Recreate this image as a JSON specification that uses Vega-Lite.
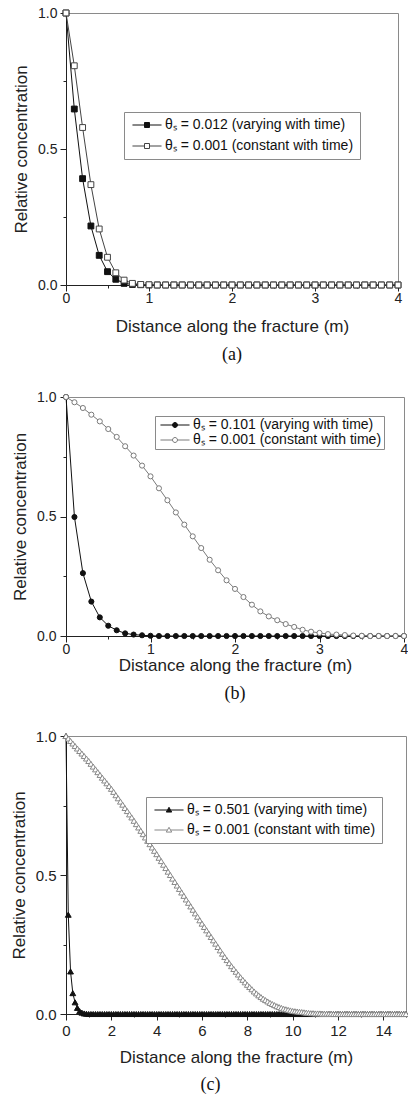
{
 "$schema": "https://vega.github.io/schema/vega-lite/v6.json",
 "background": "white",
 "padding": {"left": 9, "top": 5, "right": 0, "bottom": 0},
 "spacing": 24,
 "config": {
  "view": {"stroke": "#8a8a8a", "strokeWidth": 1},
  "axis": {"grid": false, "domainColor": "#222", "tickColor": "#222", "labelFont": "Liberation Sans", "labelFontSize": 14, "labelColor": "#222", "titleFont": "Liberation Sans", "titleFontSize": 17, "titleFontWeight": "normal", "titleColor": "#222", "labelFlush": false, "labelOverlap": false},
  "legend": {"labelFont": "Liberation Sans", "labelFontSize": 14, "labelColor": "#111", "labelLimit": 0, "strokeColor": "#8a8a8a", "fillColor": "white", "symbolStrokeWidth": 1, "symbolSize": 69},
  "title": {"font": "Liberation Serif", "fontSize": 18, "fontWeight": "normal", "color": "#111", "orient": "bottom", "anchor": "middle"}
 },
 "resolve": {"scale": {"stroke": "independent", "fill": "independent", "x": "independent", "y": "independent"}, "legend": {"stroke": "independent", "fill": "independent"}},
 "datasets": {
  "a": [
   {"s":"v","x":0,"y":1},{"s":"v","x":0.1,"y":0.647},{"s":"v","x":0.2,"y":0.391},{"s":"v","x":0.3,"y":0.217},{"s":"v","x":0.4,"y":0.109},{"s":"v","x":0.5,"y":0.049},{"s":"v","x":0.6,"y":0.021},{"s":"v","x":0.7,"y":0.006},{"s":"v","x":0.8,"y":0.002},{"s":"v","x":0.9,"y":0.001},
   {"s":"v","x":1,"y":0},{"s":"v","x":1.1,"y":0},{"s":"v","x":1.2,"y":0},{"s":"v","x":1.3,"y":0},{"s":"v","x":1.4,"y":0},{"s":"v","x":1.5,"y":0},{"s":"v","x":1.6,"y":0},{"s":"v","x":1.7,"y":0},{"s":"v","x":1.8,"y":0},{"s":"v","x":1.9,"y":0},
   {"s":"v","x":2,"y":0},{"s":"v","x":2.1,"y":0},{"s":"v","x":2.2,"y":0},{"s":"v","x":2.3,"y":0},{"s":"v","x":2.4,"y":0},{"s":"v","x":2.5,"y":0},{"s":"v","x":2.6,"y":0},{"s":"v","x":2.7,"y":0},{"s":"v","x":2.8,"y":0},{"s":"v","x":2.9,"y":0},
   {"s":"v","x":3,"y":0},{"s":"v","x":3.1,"y":0},{"s":"v","x":3.2,"y":0},{"s":"v","x":3.3,"y":0},{"s":"v","x":3.4,"y":0},{"s":"v","x":3.5,"y":0},{"s":"v","x":3.6,"y":0},{"s":"v","x":3.7,"y":0},{"s":"v","x":3.8,"y":0},{"s":"v","x":3.9,"y":0},{"s":"v","x":4,"y":0},
   {"s":"c","x":0,"y":1},{"s":"c","x":0.1,"y":0.806},{"s":"c","x":0.2,"y":0.579},{"s":"c","x":0.3,"y":0.369},{"s":"c","x":0.4,"y":0.206},{"s":"c","x":0.5,"y":0.102},{"s":"c","x":0.6,"y":0.045},{"s":"c","x":0.7,"y":0.018},{"s":"c","x":0.8,"y":0.006},{"s":"c","x":0.9,"y":0.002},
   {"s":"c","x":1,"y":0.001},{"s":"c","x":1.1,"y":0},{"s":"c","x":1.2,"y":0},{"s":"c","x":1.3,"y":0},{"s":"c","x":1.4,"y":0},{"s":"c","x":1.5,"y":0},{"s":"c","x":1.6,"y":0},{"s":"c","x":1.7,"y":0},{"s":"c","x":1.8,"y":0},{"s":"c","x":1.9,"y":0},
   {"s":"c","x":2,"y":0},{"s":"c","x":2.1,"y":0},{"s":"c","x":2.2,"y":0},{"s":"c","x":2.3,"y":0},{"s":"c","x":2.4,"y":0},{"s":"c","x":2.5,"y":0},{"s":"c","x":2.6,"y":0},{"s":"c","x":2.7,"y":0},{"s":"c","x":2.8,"y":0},{"s":"c","x":2.9,"y":0},
   {"s":"c","x":3,"y":0},{"s":"c","x":3.1,"y":0},{"s":"c","x":3.2,"y":0},{"s":"c","x":3.3,"y":0},{"s":"c","x":3.4,"y":0},{"s":"c","x":3.5,"y":0},{"s":"c","x":3.6,"y":0},{"s":"c","x":3.7,"y":0},{"s":"c","x":3.8,"y":0},{"s":"c","x":3.9,"y":0},{"s":"c","x":4,"y":0}
  ],
  "b": [
   {"s":"v","x":0,"y":1},{"s":"v","x":0.1,"y":0.498},{"s":"v","x":0.2,"y":0.263},{"s":"v","x":0.3,"y":0.144},{"s":"v","x":0.4,"y":0.078},{"s":"v","x":0.5,"y":0.043},{"s":"v","x":0.6,"y":0.024},{"s":"v","x":0.7,"y":0.011},{"s":"v","x":0.8,"y":0.006},{"s":"v","x":0.9,"y":0.003},
   {"s":"v","x":1,"y":0.001},{"s":"v","x":1.1,"y":0},{"s":"v","x":1.2,"y":0},{"s":"v","x":1.3,"y":0},{"s":"v","x":1.4,"y":0},{"s":"v","x":1.5,"y":0},{"s":"v","x":1.6,"y":0},{"s":"v","x":1.7,"y":0},{"s":"v","x":1.8,"y":0},{"s":"v","x":1.9,"y":0},
   {"s":"v","x":2,"y":0},{"s":"v","x":2.1,"y":0},{"s":"v","x":2.2,"y":0},{"s":"v","x":2.3,"y":0},{"s":"v","x":2.4,"y":0},{"s":"v","x":2.5,"y":0},{"s":"v","x":2.6,"y":0},{"s":"v","x":2.7,"y":0},{"s":"v","x":2.8,"y":0},{"s":"v","x":2.9,"y":0},
   {"s":"v","x":3,"y":0},{"s":"v","x":3.1,"y":0},{"s":"v","x":3.2,"y":0},{"s":"v","x":3.3,"y":0},{"s":"v","x":3.4,"y":0},{"s":"v","x":3.5,"y":0},{"s":"v","x":3.6,"y":0},{"s":"v","x":3.7,"y":0},{"s":"v","x":3.8,"y":0},{"s":"v","x":3.9,"y":0},{"s":"v","x":4,"y":0},
   {"s":"c","x":0,"y":1},{"s":"c","x":0.1,"y":0.978},{"s":"c","x":0.2,"y":0.954},{"s":"c","x":0.3,"y":0.926},{"s":"c","x":0.4,"y":0.898},{"s":"c","x":0.5,"y":0.866},{"s":"c","x":0.6,"y":0.833},{"s":"c","x":0.7,"y":0.794},{"s":"c","x":0.8,"y":0.755},{"s":"c","x":0.9,"y":0.713},
   {"s":"c","x":1,"y":0.668},{"s":"c","x":1.1,"y":0.618},{"s":"c","x":1.2,"y":0.568},{"s":"c","x":1.3,"y":0.517},{"s":"c","x":1.4,"y":0.466},{"s":"c","x":1.5,"y":0.417},{"s":"c","x":1.6,"y":0.368},{"s":"c","x":1.7,"y":0.319},{"s":"c","x":1.8,"y":0.275},{"s":"c","x":1.9,"y":0.233},
   {"s":"c","x":2,"y":0.197},{"s":"c","x":2.1,"y":0.163},{"s":"c","x":2.2,"y":0.131},{"s":"c","x":2.3,"y":0.103},{"s":"c","x":2.4,"y":0.082},{"s":"c","x":2.5,"y":0.066},{"s":"c","x":2.6,"y":0.05},{"s":"c","x":2.7,"y":0.038},{"s":"c","x":2.8,"y":0.026},{"s":"c","x":2.9,"y":0.018},
   {"s":"c","x":3,"y":0.013},{"s":"c","x":3.1,"y":0.008},{"s":"c","x":3.2,"y":0.006},{"s":"c","x":3.3,"y":0.004},{"s":"c","x":3.4,"y":0.002},{"s":"c","x":3.5,"y":0.001},{"s":"c","x":3.6,"y":0},{"s":"c","x":3.7,"y":0},{"s":"c","x":3.8,"y":0},{"s":"c","x":3.9,"y":0},{"s":"c","x":4,"y":0}
  ],
  "c": [
   {"s":"v","x":0,"y":1},{"s":"v","x":0.1,"y":0.357},{"s":"v","x":0.2,"y":0.153},{"s":"v","x":0.3,"y":0.075},{"s":"v","x":0.4,"y":0.042},{"s":"v","x":0.5,"y":0.022},{"s":"v","x":0.6,"y":0.01},{"s":"v","x":0.7,"y":0.005},{"s":"v","x":0.8,"y":0.002},{"s":"v","x":0.9,"y":0.001},
   {"s":"v","x":1,"y":0},{"s":"v","x":1.1,"y":0},{"s":"v","x":1.2,"y":0},{"s":"v","x":1.3,"y":0},{"s":"v","x":1.4,"y":0},{"s":"v","x":1.5,"y":0},{"s":"v","x":1.6,"y":0},{"s":"v","x":1.7,"y":0},{"s":"v","x":1.8,"y":0},{"s":"v","x":1.9,"y":0},
   {"s":"v","x":2,"y":0},{"s":"v","x":2.1,"y":0},{"s":"v","x":2.2,"y":0},{"s":"v","x":2.3,"y":0},{"s":"v","x":2.4,"y":0},{"s":"v","x":2.5,"y":0},{"s":"v","x":2.6,"y":0},{"s":"v","x":2.7,"y":0},{"s":"v","x":2.8,"y":0},{"s":"v","x":2.9,"y":0},
   {"s":"v","x":3,"y":0},{"s":"v","x":3.1,"y":0},{"s":"v","x":3.2,"y":0},{"s":"v","x":3.3,"y":0},{"s":"v","x":3.4,"y":0},{"s":"v","x":3.5,"y":0},{"s":"v","x":3.6,"y":0},{"s":"v","x":3.7,"y":0},{"s":"v","x":3.8,"y":0},{"s":"v","x":3.9,"y":0},
   {"s":"v","x":4,"y":0},{"s":"v","x":4.1,"y":0},{"s":"v","x":4.2,"y":0},{"s":"v","x":4.3,"y":0},{"s":"v","x":4.4,"y":0},{"s":"v","x":4.5,"y":0},{"s":"v","x":4.6,"y":0},{"s":"v","x":4.7,"y":0},{"s":"v","x":4.8,"y":0},{"s":"v","x":4.9,"y":0},
   {"s":"v","x":5,"y":0},{"s":"v","x":5.1,"y":0},{"s":"v","x":5.2,"y":0},{"s":"v","x":5.3,"y":0},{"s":"v","x":5.4,"y":0},{"s":"v","x":5.5,"y":0},{"s":"v","x":5.6,"y":0},{"s":"v","x":5.7,"y":0},{"s":"v","x":5.8,"y":0},{"s":"v","x":5.9,"y":0},
   {"s":"v","x":6,"y":0},{"s":"v","x":6.1,"y":0},{"s":"v","x":6.2,"y":0},{"s":"v","x":6.3,"y":0},{"s":"v","x":6.4,"y":0},{"s":"v","x":6.5,"y":0},{"s":"v","x":6.6,"y":0},{"s":"v","x":6.7,"y":0},{"s":"v","x":6.8,"y":0},{"s":"v","x":6.9,"y":0},
   {"s":"v","x":7,"y":0},{"s":"v","x":7.1,"y":0},{"s":"v","x":7.2,"y":0},{"s":"v","x":7.3,"y":0},{"s":"v","x":7.4,"y":0},{"s":"v","x":7.5,"y":0},{"s":"v","x":7.6,"y":0},{"s":"v","x":7.7,"y":0},{"s":"v","x":7.8,"y":0},{"s":"v","x":7.9,"y":0},
   {"s":"v","x":8,"y":0},{"s":"v","x":8.1,"y":0},{"s":"v","x":8.2,"y":0},{"s":"v","x":8.3,"y":0},{"s":"v","x":8.4,"y":0},{"s":"v","x":8.5,"y":0},{"s":"v","x":8.6,"y":0},{"s":"v","x":8.7,"y":0},{"s":"v","x":8.8,"y":0},{"s":"v","x":8.9,"y":0},
   {"s":"v","x":9,"y":0},{"s":"v","x":9.1,"y":0},{"s":"v","x":9.2,"y":0},{"s":"v","x":9.3,"y":0},{"s":"v","x":9.4,"y":0},{"s":"v","x":9.5,"y":0},{"s":"v","x":9.6,"y":0},{"s":"v","x":9.7,"y":0},{"s":"v","x":9.8,"y":0},{"s":"v","x":9.9,"y":0},
   {"s":"v","x":10,"y":0},{"s":"v","x":10.1,"y":0},{"s":"v","x":10.2,"y":0},{"s":"v","x":10.3,"y":0},{"s":"v","x":10.4,"y":0},{"s":"v","x":10.5,"y":0},{"s":"v","x":10.6,"y":0},{"s":"v","x":10.7,"y":0},{"s":"v","x":10.8,"y":0},{"s":"v","x":10.9,"y":0},
   {"s":"v","x":11,"y":0},{"s":"v","x":11.1,"y":0},{"s":"v","x":11.2,"y":0},{"s":"v","x":11.3,"y":0},{"s":"v","x":11.4,"y":0},{"s":"v","x":11.5,"y":0},{"s":"v","x":11.6,"y":0},{"s":"v","x":11.7,"y":0},{"s":"v","x":11.8,"y":0},{"s":"v","x":11.9,"y":0},
   {"s":"v","x":12,"y":0},{"s":"v","x":12.1,"y":0},{"s":"v","x":12.2,"y":0},{"s":"v","x":12.3,"y":0},{"s":"v","x":12.4,"y":0},{"s":"v","x":12.5,"y":0},{"s":"v","x":12.6,"y":0},{"s":"v","x":12.7,"y":0},{"s":"v","x":12.8,"y":0},{"s":"v","x":12.9,"y":0},
   {"s":"v","x":13,"y":0},{"s":"v","x":13.1,"y":0},{"s":"v","x":13.2,"y":0},{"s":"v","x":13.3,"y":0},{"s":"v","x":13.4,"y":0},{"s":"v","x":13.5,"y":0},{"s":"v","x":13.6,"y":0},{"s":"v","x":13.7,"y":0},{"s":"v","x":13.8,"y":0},{"s":"v","x":13.9,"y":0},
   {"s":"v","x":14,"y":0},{"s":"v","x":14.1,"y":0},{"s":"v","x":14.2,"y":0},{"s":"v","x":14.3,"y":0},{"s":"v","x":14.4,"y":0},{"s":"v","x":14.5,"y":0},{"s":"v","x":14.6,"y":0},{"s":"v","x":14.7,"y":0},{"s":"v","x":14.8,"y":0},{"s":"v","x":14.9,"y":0},{"s":"v","x":15,"y":0},
   {"s":"c","x":0,"y":1},{"s":"c","x":0.1,"y":0.991},{"s":"c","x":0.2,"y":0.982},{"s":"c","x":0.3,"y":0.973},{"s":"c","x":0.4,"y":0.964},{"s":"c","x":0.5,"y":0.955},{"s":"c","x":0.6,"y":0.946},{"s":"c","x":0.7,"y":0.937},{"s":"c","x":0.8,"y":0.928},{"s":"c","x":0.9,"y":0.919},
   {"s":"c","x":1,"y":0.91},{"s":"c","x":1.1,"y":0.9},{"s":"c","x":1.2,"y":0.89},{"s":"c","x":1.3,"y":0.88},{"s":"c","x":1.4,"y":0.87},{"s":"c","x":1.5,"y":0.86},{"s":"c","x":1.6,"y":0.85},{"s":"c","x":1.7,"y":0.84},{"s":"c","x":1.8,"y":0.83},{"s":"c","x":1.9,"y":0.82},
   {"s":"c","x":2,"y":0.81},{"s":"c","x":2.1,"y":0.799},{"s":"c","x":2.2,"y":0.787},{"s":"c","x":2.3,"y":0.776},{"s":"c","x":2.4,"y":0.764},{"s":"c","x":2.5,"y":0.753},{"s":"c","x":2.6,"y":0.741},{"s":"c","x":2.7,"y":0.73},{"s":"c","x":2.8,"y":0.718},{"s":"c","x":2.9,"y":0.707},
   {"s":"c","x":3,"y":0.695},{"s":"c","x":3.1,"y":0.683},{"s":"c","x":3.2,"y":0.671},{"s":"c","x":3.3,"y":0.659},{"s":"c","x":3.4,"y":0.647},{"s":"c","x":3.5,"y":0.635},{"s":"c","x":3.6,"y":0.623},{"s":"c","x":3.7,"y":0.611},{"s":"c","x":3.8,"y":0.599},{"s":"c","x":3.9,"y":0.587},
   {"s":"c","x":4,"y":0.575},{"s":"c","x":4.1,"y":0.562},{"s":"c","x":4.2,"y":0.55},{"s":"c","x":4.3,"y":0.537},{"s":"c","x":4.4,"y":0.525},{"s":"c","x":4.5,"y":0.512},{"s":"c","x":4.6,"y":0.5},{"s":"c","x":4.7,"y":0.487},{"s":"c","x":4.8,"y":0.475},{"s":"c","x":4.9,"y":0.462},
   {"s":"c","x":5,"y":0.45},{"s":"c","x":5.1,"y":0.437},{"s":"c","x":5.2,"y":0.425},{"s":"c","x":5.3,"y":0.412},{"s":"c","x":5.4,"y":0.4},{"s":"c","x":5.5,"y":0.387},{"s":"c","x":5.6,"y":0.375},{"s":"c","x":5.7,"y":0.362},{"s":"c","x":5.8,"y":0.35},{"s":"c","x":5.9,"y":0.337},
   {"s":"c","x":6,"y":0.325},{"s":"c","x":6.1,"y":0.313},{"s":"c","x":6.2,"y":0.301},{"s":"c","x":6.3,"y":0.289},{"s":"c","x":6.4,"y":0.277},{"s":"c","x":6.5,"y":0.265},{"s":"c","x":6.6,"y":0.253},{"s":"c","x":6.7,"y":0.241},{"s":"c","x":6.8,"y":0.229},{"s":"c","x":6.9,"y":0.217},
   {"s":"c","x":7,"y":0.205},{"s":"c","x":7.1,"y":0.194},{"s":"c","x":7.2,"y":0.183},{"s":"c","x":7.3,"y":0.172},{"s":"c","x":7.4,"y":0.162},{"s":"c","x":7.5,"y":0.152},{"s":"c","x":7.6,"y":0.142},{"s":"c","x":7.7,"y":0.132},{"s":"c","x":7.8,"y":0.123},{"s":"c","x":7.9,"y":0.114},
   {"s":"c","x":8,"y":0.105},{"s":"c","x":8.1,"y":0.097},{"s":"c","x":8.2,"y":0.089},{"s":"c","x":8.3,"y":0.081},{"s":"c","x":8.4,"y":0.074},{"s":"c","x":8.5,"y":0.067},{"s":"c","x":8.6,"y":0.061},{"s":"c","x":8.7,"y":0.055},{"s":"c","x":8.8,"y":0.05},{"s":"c","x":8.9,"y":0.045},
   {"s":"c","x":9,"y":0.04},{"s":"c","x":9.1,"y":0.036},{"s":"c","x":9.2,"y":0.032},{"s":"c","x":9.3,"y":0.028},{"s":"c","x":9.4,"y":0.025},{"s":"c","x":9.5,"y":0.022},{"s":"c","x":9.6,"y":0.019},{"s":"c","x":9.7,"y":0.017},{"s":"c","x":9.8,"y":0.015},{"s":"c","x":9.9,"y":0.013},
   {"s":"c","x":10,"y":0.011},{"s":"c","x":10.1,"y":0.01},{"s":"c","x":10.2,"y":0.009},{"s":"c","x":10.3,"y":0.008},{"s":"c","x":10.4,"y":0.007},{"s":"c","x":10.5,"y":0.006},{"s":"c","x":10.6,"y":0.005},{"s":"c","x":10.7,"y":0.004},{"s":"c","x":10.8,"y":0.003},{"s":"c","x":10.9,"y":0.003},
   {"s":"c","x":11,"y":0.002},{"s":"c","x":11.1,"y":0.002},{"s":"c","x":11.2,"y":0.002},{"s":"c","x":11.3,"y":0.001},{"s":"c","x":11.4,"y":0.001},{"s":"c","x":11.5,"y":0.001},{"s":"c","x":11.6,"y":0.001},{"s":"c","x":11.7,"y":0.001},{"s":"c","x":11.8,"y":0},{"s":"c","x":11.9,"y":0},
   {"s":"c","x":12,"y":0},{"s":"c","x":12.1,"y":0},{"s":"c","x":12.2,"y":0},{"s":"c","x":12.3,"y":0},{"s":"c","x":12.4,"y":0},{"s":"c","x":12.5,"y":0},{"s":"c","x":12.6,"y":0},{"s":"c","x":12.7,"y":0},{"s":"c","x":12.8,"y":0},{"s":"c","x":12.9,"y":0},
   {"s":"c","x":13,"y":0},{"s":"c","x":13.1,"y":0},{"s":"c","x":13.2,"y":0},{"s":"c","x":13.3,"y":0},{"s":"c","x":13.4,"y":0},{"s":"c","x":13.5,"y":0},{"s":"c","x":13.6,"y":0},{"s":"c","x":13.7,"y":0},{"s":"c","x":13.8,"y":0},{"s":"c","x":13.9,"y":0},
   {"s":"c","x":14,"y":0},{"s":"c","x":14.1,"y":0},{"s":"c","x":14.2,"y":0},{"s":"c","x":14.3,"y":0},{"s":"c","x":14.4,"y":0},{"s":"c","x":14.5,"y":0},{"s":"c","x":14.6,"y":0},{"s":"c","x":14.7,"y":0},{"s":"c","x":14.8,"y":0},{"s":"c","x":14.9,"y":0},{"s":"c","x":15,"y":0}
  ]
 },
 "vconcat": [
  {
   "width": 332, "height": 272,
   "data": {"name": "a"},
   "title": {"text": "(a)", "offset": 12},
   "encoding": {
    "x": {"field": "x", "type": "quantitative", "scale": {"domain": [0, 4], "nice": false, "zero": false},
     "axis": {"title": "Distance along the fracture (m)", "values": [0, 0.5, 1, 1.5, 2, 2.5, 3, 3.5, 4], "labelExpr": "datum.value % 1 === 0 ? format(datum.value, 'd') : ''", "tickSize": {"condition": {"test": "datum.value % 1 === 0", "value": 6}, "value": 3}, "labelPadding": 0, "titlePadding": 13}},
    "y": {"field": "y", "type": "quantitative", "scale": {"domain": [0, 1], "nice": false},
     "axis": {"title": "Relative concentration", "values": [0, 0.25, 0.5, 0.75, 1], "labelExpr": "datum.value % 0.5 === 0 ? format(datum.value, '.1f') : ''", "tickSize": {"condition": {"test": "datum.value % 0.5 === 0", "value": 6}, "value": 3}, "labelPadding": 3, "titlePadding": 7}}
   },
   "layer": [
    {"mark": {"type": "line", "strokeWidth": 1},
     "encoding": {"stroke": {"field": "s", "type": "nominal", "scale": {"domain": ["v", "c"], "range": ["#111111", "#444444"]},
      "legend": {"title": null, "orient": "none", "legendX": 58, "legendY": 99, "symbolType": "M-3.5,0H-0.6M0.6,0H3.5M-0.6,-0.6H0.6V0.6H-0.6Z", "symbolOffset": 10, "labelOffset": 11, "padding": 6, "rowPadding": 7, "labelExpr": "datum.value === 'v' ? 'θₛ = 0.012 (varying with time)' : 'θₛ = 0.001 (constant with time)'"}}}},
    {"mark": {"type": "point", "shape": "square", "size": 34, "opacity": 1, "strokeWidth": 1},
     "encoding": {
      "stroke": {"field": "s", "type": "nominal", "scale": {"domain": ["v", "c"], "range": ["#111111", "#444444"]},
       "legend": {"title": null, "orient": "none", "legendX": 58, "legendY": 99, "symbolType": "M-3.5,0H-0.6M0.6,0H3.5M-0.6,-0.6H0.6V0.6H-0.6Z", "symbolOffset": 10, "labelOffset": 11, "padding": 6, "rowPadding": 7, "labelExpr": "datum.value === 'v' ? 'θₛ = 0.012 (varying with time)' : 'θₛ = 0.001 (constant with time)'"}},
      "fill": {"field": "s", "type": "nominal", "scale": {"domain": ["v", "c"], "range": ["#111111", "#ffffff"]},
       "legend": {"title": null, "orient": "none", "legendX": 58, "legendY": 99, "symbolType": "M-3.5,0H-0.6M0.6,0H3.5M-0.6,-0.6H0.6V0.6H-0.6Z", "symbolOffset": 10, "labelOffset": 11, "padding": 6, "rowPadding": 7, "labelExpr": "datum.value === 'v' ? 'θₛ = 0.012 (varying with time)' : 'θₛ = 0.001 (constant with time)'"}}
     }}
   ]
  },
  {
   "width": 338, "height": 239,
   "data": {"name": "b"},
   "title": {"text": "(b)", "offset": 12},
   "encoding": {
    "x": {"field": "x", "type": "quantitative", "scale": {"domain": [0, 4], "nice": false, "zero": false},
     "axis": {"title": "Distance along the fracture (m)", "values": [0, 0.5, 1, 1.5, 2, 2.5, 3, 3.5, 4], "labelExpr": "datum.value % 1 === 0 ? format(datum.value, 'd') : ''", "tickSize": {"condition": {"test": "datum.value % 1 === 0", "value": 6}, "value": 3}, "labelPadding": 0, "titlePadding": 1}},
    "y": {"field": "y", "type": "quantitative", "scale": {"domain": [0, 1], "nice": false},
     "axis": {"title": "Relative concentration", "values": [0, 0.25, 0.5, 0.75, 1], "labelExpr": "datum.value % 0.5 === 0 ? format(datum.value, '.1f') : ''", "tickSize": {"condition": {"test": "datum.value % 0.5 === 0", "value": 6}, "value": 3}, "labelPadding": 4, "titlePadding": 7}}
   },
   "layer": [
    {"mark": {"type": "line", "strokeWidth": 1},
     "encoding": {"stroke": {"field": "s", "type": "nominal", "scale": {"domain": ["v", "c"], "range": ["#111111", "#7a7a7a"]},
      "legend": {"title": null, "orient": "none", "legendX": 89, "legendY": 19, "symbolType": "M-3.5,0H-0.6M0.6,0H3.5M0.6,0A0.6,0.6,0,1,1,-0.6,0A0.6,0.6,0,1,1,0.6,0Z", "symbolOffset": 11, "labelOffset": 11, "padding": 2, "rowPadding": 1, "labelExpr": "datum.value === 'v' ? 'θₛ = 0.101 (varying with time)' : 'θₛ = 0.001 (constant with time)'"}}}},
    {"mark": {"type": "point", "shape": "circle", "size": 26, "opacity": 1, "strokeWidth": 1},
     "encoding": {
      "stroke": {"field": "s", "type": "nominal", "scale": {"domain": ["v", "c"], "range": ["#111111", "#7a7a7a"]},
       "legend": {"title": null, "orient": "none", "legendX": 89, "legendY": 19, "symbolType": "M-3.5,0H-0.6M0.6,0H3.5M0.6,0A0.6,0.6,0,1,1,-0.6,0A0.6,0.6,0,1,1,0.6,0Z", "symbolOffset": 11, "labelOffset": 11, "padding": 2, "rowPadding": 1, "labelExpr": "datum.value === 'v' ? 'θₛ = 0.101 (varying with time)' : 'θₛ = 0.001 (constant with time)'"}},
      "fill": {"field": "s", "type": "nominal", "scale": {"domain": ["v", "c"], "range": ["#111111", "#ffffff"]},
       "legend": {"title": null, "orient": "none", "legendX": 89, "legendY": 19, "symbolType": "M-3.5,0H-0.6M0.6,0H3.5M0.6,0A0.6,0.6,0,1,1,-0.6,0A0.6,0.6,0,1,1,0.6,0Z", "symbolOffset": 11, "labelOffset": 11, "padding": 2, "rowPadding": 1, "labelExpr": "datum.value === 'v' ? 'θₛ = 0.101 (varying with time)' : 'θₛ = 0.001 (constant with time)'"}}
     }}
   ]
  },
  {
   "width": 340, "height": 278,
   "data": {"name": "c"},
   "title": {"text": "(c)", "offset": 11, "frame": "bounds"},
   "encoding": {
    "x": {"field": "x", "type": "quantitative", "scale": {"domain": [0, 15], "nice": false, "zero": false},
     "axis": {"title": "Distance along the fracture (m)", "values": [0, 1, 2, 3, 4, 5, 6, 7, 8, 9, 10, 11, 12, 13, 14, 15], "labelExpr": "datum.value % 2 === 0 && datum.value < 15 ? format(datum.value, 'd') : ''", "tickSize": {"condition": {"test": "datum.value % 2 === 0", "value": 6}, "value": 3}, "labelFontSize": 15, "labelPadding": 3, "titlePadding": 11}},
    "y": {"field": "y", "type": "quantitative", "scale": {"domain": [0, 1], "nice": false},
     "axis": {"title": "Relative concentration", "values": [0, 0.25, 0.5, 0.75, 1], "labelExpr": "datum.value % 0.5 === 0 ? format(datum.value, '.1f') : ''", "tickSize": {"condition": {"test": "datum.value % 0.5 === 0", "value": 6}, "value": 3}, "labelFontSize": 15, "labelPadding": 4, "titlePadding": 7}}
   },
   "layer": [
    {"mark": {"type": "line", "strokeWidth": 1},
     "encoding": {"stroke": {"field": "s", "type": "nominal", "scale": {"domain": ["v", "c"], "range": ["#111111", "#888888"]},
      "legend": {"title": null, "orient": "none", "legendX": 80, "legendY": 61, "symbolType": "M-3.5,0H-0.4M0.4,0H3.5M0,-0.65L0.65,0.5H-0.65Z", "symbolOffset": 10, "labelOffset": 11, "padding": 6, "rowPadding": 6, "labelExpr": "datum.value === 'v' ? 'θₛ = 0.501 (varying with time)' : 'θₛ = 0.001 (constant with time)'"}}}},
    {"mark": {"type": "point", "shape": "triangle-up", "size": 34, "opacity": 1, "strokeWidth": 1},
     "encoding": {
      "stroke": {"field": "s", "type": "nominal", "scale": {"domain": ["v", "c"], "range": ["#111111", "#888888"]},
       "legend": {"title": null, "orient": "none", "legendX": 80, "legendY": 61, "symbolType": "M-3.5,0H-0.4M0.4,0H3.5M0,-0.65L0.65,0.5H-0.65Z", "symbolOffset": 10, "labelOffset": 11, "padding": 6, "rowPadding": 6, "labelExpr": "datum.value === 'v' ? 'θₛ = 0.501 (varying with time)' : 'θₛ = 0.001 (constant with time)'"}},
      "fill": {"field": "s", "type": "nominal", "scale": {"domain": ["v", "c"], "range": ["#111111", "#ffffff"]},
       "legend": {"title": null, "orient": "none", "legendX": 80, "legendY": 61, "symbolType": "M-3.5,0H-0.4M0.4,0H3.5M0,-0.65L0.65,0.5H-0.65Z", "symbolOffset": 10, "labelOffset": 11, "padding": 6, "rowPadding": 6, "labelExpr": "datum.value === 'v' ? 'θₛ = 0.501 (varying with time)' : 'θₛ = 0.001 (constant with time)'"}}
     }}
   ]
  }
 ]
}
